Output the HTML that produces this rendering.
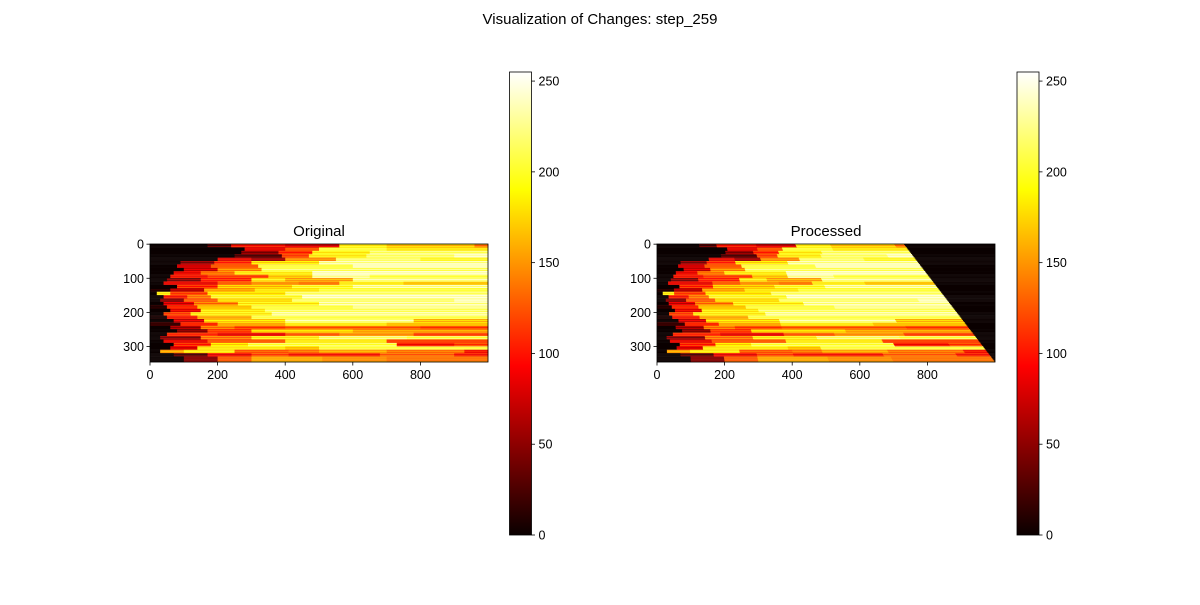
<!DOCTYPE html>
<html><head><meta charset="utf-8"><style>
body{margin:0;background:#fff}
svg text{font-family:"Liberation Sans","DejaVu Sans",sans-serif;fill:#000}
</style></head><body>
<svg id="fig" width="1200" height="600" viewBox="0 0 1200 600" xmlns="http://www.w3.org/2000/svg">
<rect width="1200" height="600" fill="#fff"/>
<text x="600" y="24" font-size="15" text-anchor="middle">Visualization of Changes: step_259</text>
<text x="319" y="236" font-size="15" text-anchor="middle">Original</text>
<text x="826" y="236" font-size="15" text-anchor="middle">Processed</text>
<defs>
<linearGradient id="hotg" x1="0" y1="1" x2="0" y2="0">
<stop offset="0" stop-color="rgb(10,0,0)"/>
<stop offset="0.365" stop-color="rgb(255,0,0)"/>
<stop offset="0.746" stop-color="rgb(255,255,0)"/>
<stop offset="1" stop-color="rgb(255,255,255)"/>
</linearGradient>
</defs>
<g id="left"></g>
<g id="right"></g>
<g id="axes"></g>
</svg>
<script>
// row bands: [rowStart, rowEnd], segments "x:value"
const bandRows = [0,10,20,30,40,50,60,70,80,90,100,110,120,130,140,150,160,170,180,190,200,210,220,230,240,250,260,270,280,290,300,310,320,330,346];
const bandSegments = [
"0:0,170:40,240:110,400:90,560:200,700:180,960:150",
"0:0,280:100,400:140,500:220,700:200",
"0:0,270:60,380:120,480:200,650:230",
"0:0,250:40,390:130,470:200,640:230,900:250",
"0:0,200:100,300:70,400:160,550:230,800:210",
"0:0,90:60,190:120,300:190,500:240",
"0:0,80:90,180:140,320:220,600:250",
"0:0,100:90,200:160,330:230",
"0:0,70:100,150:150,250:200,480:250",
"0:0,60:110,170:130,350:180,480:240,650:220",
"0:0,50:60,150:120,300:200,400:170,600:240",
"0:0,40:100,200:140,300:160,440:150,560:200,750:180",
"0:0,80:120,200:180,420:210,600:240",
"0:20,60:80,160:170,310:200,500:220",
"0:0,20:200,60:130,170:190,400:230",
"0:0,40:110,110:150,180:210,450:250",
"0:0,30:60,100:140,200:190,420:230,900:250",
"0:0,40:90,130:150,260:200,500:240",
"0:20,50:120,140:180,300:220,600:240",
"0:0,60:100,150:200,340:230",
"0:0,40:130,120:200,360:240",
"0:10,50:110,140:170,300:220",
"0:0,70:90,160:190,400:240,780:180",
"0:30,90:120,200:170,400:200,700:180",
"0:0,60:70,150:150,250:130,400:140,800:130",
"0:0,80:60,170:130,300:190,600:170",
"0:0,50:120,200:100,400:140,560:160,780:130",
"0:0,30:60,150:150,300:200,500:230,760:220",
"0:0,40:100,170:140,400:200,700:130",
"0:0,70:120,180:190,290:220,730:110,900:130",
"0:0,60:90,140:200,400:180,500:220",
"0:0,30:170,100:200,250:140,410:150,500:170,700:150,930:110",
"0:0,70:40,170:100,300:130,410:110,680:140,900:110",
"0:0,100:60,200:140,300:170,510:160,700:150"
];
const cutoffTop = 730, cutoffBottom = 1000;
const xTicks = [0,200,400,600,800];
const yTicks = [0,100,200,300];
const cbTicks = [0,50,100,150,200,250];

const NS="http://www.w3.org/2000/svg";
const XMAX=1000, YMAX=346;
function hot(v){const t=v/255;
 const r=t<0.365?10+245*t/0.365:255;
 const g=t<0.365?0:(t<0.746?255*(t-0.365)/0.381:255);
 const b=t<0.746?0:255*(t-0.746)/0.254;
 return `rgb(${Math.round(r)},${Math.round(g)},${Math.round(b)})`;}
function mk(tag,attrs,parent){const e=document.createElementNS(NS,tag);for(const k in attrs)e.setAttribute(k,attrs[k]);parent.appendChild(e);return e;}
function parse(s){return s.split(',').map(p=>p.split(':').map(Number));}
function valueAt(segs,x){let v=segs[0][1];for(const [sx,sv] of segs){if(x>=sx)v=sv;}return v;}

function drawPanel(g,x0,processed){
 const sx=x=>x0+x*338/XMAX, sy=r=>244+r*118/YMAX;
 for(let b=0;b<bandSegments.length;b++){
  const segs=parse(bandSegments[b]);
  const r0=bandRows[b], r1=bandRows[b+1];
  for(let r=r0;r<r1;r+=3){
   const rr=Math.min(r+3,r1);
   const cut=processed?cutoffTop+(cutoffBottom-cutoffTop)*(r+1.5)/YMAX:XMAX;
   const scale=XMAX/cut;
   const stripe=((r/3)|0)%2;
   for(let i=0;i<segs.length;i++){
    let xa=segs[i][0]/scale, xb=(i+1<segs.length?segs[i+1][0]:XMAX)/scale;
    let v=segs[i][1]; if(stripe)v=Math.max(0,v-25);
    const el=mk('rect',{x:sx(xa),y:sy(r),width:Math.max(0,sx(xb)-sx(xa))+0.3,height:sy(rr)-sy(r)+0.2,fill:hot(v)},g);
    
    
   }
   if(processed){
    const el=mk('rect',{x:sx(cut),y:sy(r),width:Math.max(0,sx(XMAX)-sx(cut)),height:sy(rr)-sy(r)+0.2,fill:hot(0)},g);
    
    
   }
  }
 }
 const ax=document.getElementById('axes');
 const fr=mk('rect',{x:x0,y:244,width:338,height:118,fill:'none',stroke:'#000','stroke-width':0.8},ax);
 
 
 for(const t of xTicks){const x=sx(t);
  mk('line',{x1:x,x2:x,y1:362,y2:365.5,stroke:'#000','stroke-width':0.8},ax);
  const tx=mk('text',{x:x,y:379,'font-size':12.5,'text-anchor':'middle'},ax);tx.textContent=t;
  
  }
 for(const t of yTicks){const y=sy(t+0.5);
  mk('line',{x1:x0,x2:x0-3.5,y1:y,y2:y,stroke:'#000','stroke-width':0.8},ax);
  const tx=mk('text',{x:x0-6,y:y+4.5,'font-size':12.5,'text-anchor':'end'},ax);tx.textContent=t;
  
  }
}
function drawColorbar(x0){
 const ax=document.getElementById('axes');
 const cy=v=>535-v*463/255;
 const r=mk('rect',{x:x0,y:72,width:22,height:463,fill:'url(#hotg)',stroke:'#000','stroke-width':0.8},ax);
 
 
 for(const t of cbTicks){const y=cy(t);
  mk('line',{x1:x0+22,x2:x0+25.5,y1:y,y2:y,stroke:'#000','stroke-width':0.8},ax);
  const tx=mk('text',{x:x0+29,y:y+4.5,'font-size':12.5},ax);tx.textContent=t;
  
  }
}
drawPanel(document.getElementById('left'),150,false);
drawPanel(document.getElementById('right'),657,true);
drawColorbar(509.5);
drawColorbar(1017);
</script>
</body></html>
